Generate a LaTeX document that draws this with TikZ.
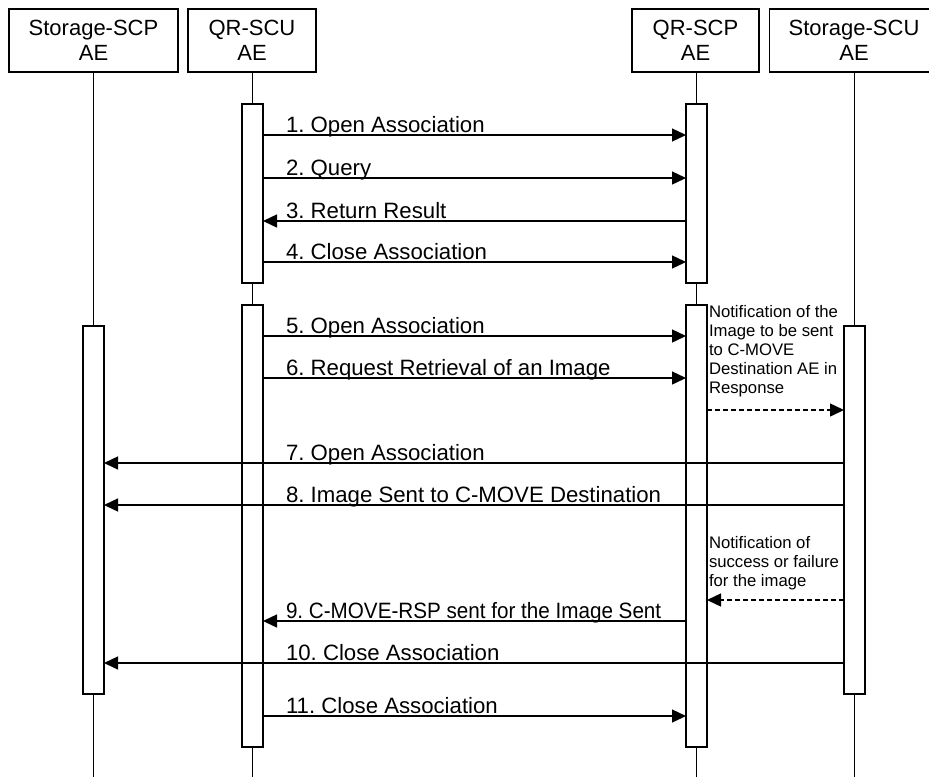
\documentclass[tikz,border=0pt]{standalone}
\usepackage{fontspec}
\setmainfont{Liberation Sans}
\usetikzlibrary{arrows.meta}
\frenchspacing
\begin{document}
\begin{tikzpicture}[x=1pt,y=-1pt,
  every node/.style={inner sep=0pt, outer sep=0pt},
  actor/.style={draw, line width=1.4pt, minimum width=169pt, minimum height=63pt, align=center,
    font=\fontsize{22}{25}\selectfont},
  bar/.style={draw, line width=1.4pt, fill=white, minimum width=21pt},
  life/.style={line width=1.4pt},
  msg/.style={line width=1.4pt, -{Triangle[length=14pt,width=13pt]}},
  dmsg/.style={msg, dash pattern=on 5pt off 3pt},
  lbl/.style={anchor=base west, font=\fontsize{22.2}{25}\selectfont},
  note/.style={anchor=north west, align=left, font=\fontsize{16.7}{19.2}\selectfont}
]
\useasboundingbox (0,0) rectangle (929,777);
\clip (0,0) rectangle (929,777);
% actors
\node[actor] (sscp) at (93.5,40.5) {Storage-SCP\\AE};
\node[actor, minimum width=128pt] (qscu) at (252,40.5) {QR-SCU\\AE};
\node[actor, minimum width=127pt] (qscp) at (695.5,40.5) {QR-SCP\\AE};
\node[actor] (sscu) at (854,40.5) {Storage-SCU\\AE};
% lifeline ends
\coordinate (esscp) at (93.5,777);
\coordinate (eqscu) at (252.5,777);
\coordinate (eqscp) at (696.5,777);
\coordinate (esscu) at (854.5,777);
\draw[life] (sscp.south -| esscp) -- (esscp);
\draw[life] (qscu.south -| eqscu) -- (eqscu);
\draw[life] (qscp.south -| eqscp) -- (eqscp);
\draw[life] (sscu.south -| esscu) -- (esscu);
% activation bars
\node[bar, minimum height=179pt, anchor=north] (u1) at (252.5,104) {};
\node[bar, minimum height=179pt, anchor=north] (p1) at (696.5,104) {};
\node[bar, minimum height=442pt, anchor=north] (u2) at (252.5,305) {};
\node[bar, minimum height=442pt, anchor=north] (p2) at (696.5,305) {};
\node[bar, minimum height=368pt, anchor=north] (s1) at (93.5,326) {};
\node[bar, minimum height=368pt, anchor=north] (c1) at (854.5,326) {};
% messages
\draw[msg] (u1.east |- 0,135) -- (p1.west |- 0,135);
\node[lbl] (l1) at (286,132) {1. Open Association};
\draw[msg] (u1.east |- 0,178) -- (p1.west |- 0,178);
\node[lbl] (l2) at (286,175) {2. Query};
\draw[msg] (p1.west |- 0,221) -- (u1.east |- 0,221);
\node[lbl] (l3) at (286,218) {3. Return Result};
\draw[msg] (u1.east |- 0,262) -- (p1.west |- 0,262);
\node[lbl] (l4) at (286,259) {4. Close Association};
\draw[msg] (u2.east |- 0,336) -- (p2.west |- 0,336);
\node[lbl] (l5) at (286,333) {5. Open Association};
\draw[msg] (u2.east |- 0,378) -- (p2.west |- 0,378);
\node[lbl] (l6) at (286,375) {6. Request Retrieval of an Image};
\node[note] (n1) at (709,305) {Notification of the\\Image to be sent\\to C-MOVE\\Destination AE in\\Response};
\draw[dmsg] (p2.east |- 0,410) -- (c1.west |- 0,410);
\draw[msg] (c1.west |- 0,463) -- (s1.east |- 0,463);
\node[lbl] (l7) at (286,460) {7. Open Association};
\draw[msg] (c1.west |- 0,505) -- (s1.east |- 0,505);
\node[lbl] (l8) at (286,502) {8. Image Sent to C-MOVE Destination};
\node[note] (n2) at (709,536) {Notification of\\success or failure\\for the image};
\draw[dmsg] (c1.west |- 0,600) -- (p2.east |- 0,600);
\draw[msg] (p2.west |- 0,621) -- (u2.east |- 0,621);
\node[lbl] (l9) at (286,618) {\scalebox{0.93}[1]{9. C-MOVE-RSP sent for the Image Sent}};
\draw[msg] (c1.west |- 0,663) -- (s1.east |- 0,663);
\node[lbl] (l10) at (286,660) {10. Close Association};
\draw[msg] (u2.east |- 0,716) -- (p2.west |- 0,716);
\node[lbl] (l11) at (286,713) {11. Close Association};
\end{tikzpicture}
\end{document}
